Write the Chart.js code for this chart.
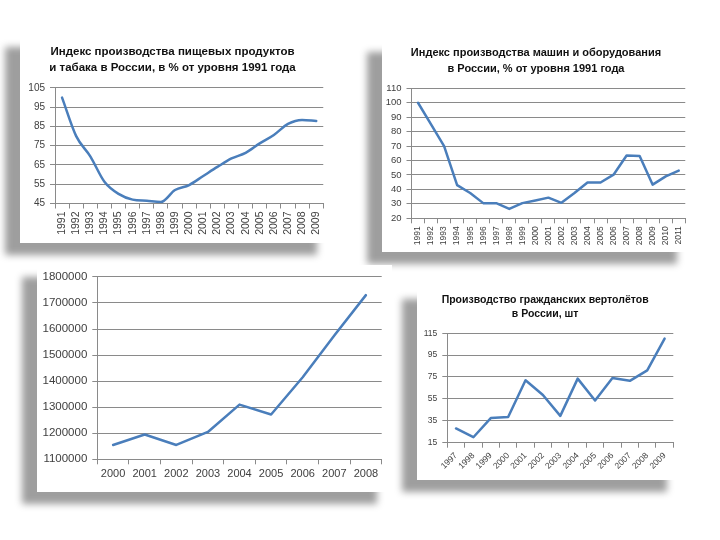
<!DOCTYPE html>
<html>
<head>
<meta charset="utf-8">
<script src="https://cdn.jsdelivr.net/npm/chart.js@4.4.0/dist/chart.umd.min.js"></script>
<style>
  body { margin: 0; background: #fff; width: 720px; height: 540px; position: relative; overflow: hidden; }
  .panel { position: absolute; background: #fff; box-shadow: -15px 12px 7px rgba(0, 0, 0, 0.38); }
  .panel canvas { display: block; }
</style>
</head>
<body>
<div class="panel" style="left:20px;top:35px;width:312px;height:208px"><canvas id="food" width="312" height="208"></canvas></div>
<div class="panel" style="left:382px;top:40px;width:310px;height:212px"><canvas id="machines" width="310" height="212"></canvas></div>
<div class="panel" style="left:37px;top:265px;width:355px;height:227px"><canvas id="output" width="355" height="227"></canvas></div>
<div class="panel" style="left:417px;top:287px;width:265px;height:193px"><canvas id="heli" width="265" height="193"></canvas></div>
<script>
const foodYears = ['1991', '1992', '1993', '1994', '1995', '1996', '1997', '1998', '1999', '2000',
  '2001', '2002', '2003', '2004', '2005', '2006', '2007', '2008', '2009'];
const foodIndex = [100, 80, 69.5, 56.3, 50, 47, 46.4, 45.8, 52, 54.6,
  59.3, 64, 68.4, 71.3, 76.2, 80.6, 86.3, 88.4, 87.9];

const machineYears = ['1991', '1992', '1993', '1994', '1995', '1996', '1997', '1998', '1999', '2000',
  '2001', '2002', '2003', '2004', '2005', '2006', '2007', '2008', '2009', '2010', '2011'];
const machineIndex = [100, 85, 70, 43, 37.5, 30.5, 30.5, 26.5, 30.5, 32.3,
  34.3, 30.7, 37.5, 44.8, 44.8, 50.2, 63.5, 63.2, 43.3, 49, 53];

const outputYears = ['2000', '2001', '2002', '2003', '2004', '2005', '2006', '2007', '2008'];
const outputValues = [1155000, 1195000, 1155000, 1205000, 1310000, 1272000, 1415000, 1575000, 1730000];

const heliYears = ['1997', '1998', '1999', '2000', '2001', '2002', '2003', '2004', '2005', '2006', '2007', '2008', '2009'];
const heliCount = [28, 20, 37.5, 38.5, 72, 58.5, 39.5, 73.5, 53.5, 74, 71.5, 81, 110];

const foodTitle = ['Индекс производства пищевых продуктов', 'и табака в России, в % от уровня 1991 года'];
const machineTitle = ['Индекс производства машин и оборудования', 'в России, % от уровня 1991 года'];
const heliTitle = ['Производство гражданских вертолётов', 'в России, шт'];

const FONT = "'Liberation Sans', Arial, sans-serif";
const LINE = '#4a7ebb';
const GRID = '#8a8a8a';
const TEXT = '#404040';

// one Excel-like line chart; axis sizes are pinned so the plot lands where the picture has it
function makeChart(id, labels, values, o) {
  return new Chart(document.getElementById(id), {
    type: 'line',
    data: {
      labels,
      datasets: [{
        data: values,
        borderColor: LINE,
        borderWidth: 2.5,
        pointRadius: 0,
        tension: o.smooth ? 0.4 : 0,
        cubicInterpolationMode: o.smooth ? 'monotone' : 'default',
        borderCapStyle: 'round',
        borderJoinStyle: 'round'
      }]
    },
    options: {
      responsive: false,
      animation: false,
      layout: { padding: { top: o.padTop || 0, right: o.padRight, left: 0, bottom: 0 } },
      plugins: {
        legend: { display: false },
        tooltip: { enabled: false },
        title: o.title ? {
          display: true,
          text: o.title,
          color: '#111',
          font: { family: FONT, size: o.titleSize, weight: 'bold', lineHeight: o.titleLine },
          padding: o.titlePad
        } : { display: false }
      },
      scales: {
        x: {
          offset: true,
          afterFit: s => { s.height = o.xHeight; },
          grid: { drawOnChartArea: false, offset: true, tickLength: 5, color: GRID },
          border: { color: GRID },
          ticks: {
            color: TEXT,
            font: { family: FONT, size: o.xFont },
            minRotation: o.rot,
            maxRotation: o.rot,
            autoSkip: false,
            padding: 3
          }
        },
        y: {
          min: o.min,
          max: o.max,
          afterFit: s => { s.width = o.yWidth; },
          grid: { color: GRID, tickLength: 5 },
          border: { color: GRID },
          ticks: {
            stepSize: o.step,
            color: TEXT,
            font: { family: FONT, size: o.yFont },
            padding: 5,
            callback: v => String(v)
          }
        }
      }
    }
  });
}

makeChart('food', foodYears, foodIndex, {
  smooth: true, title: foodTitle, titleSize: 11.5, titleLine: 1.39, titlePad: { top: 9, bottom: 12 },
  yWidth: 35, xHeight: 39.5, padRight: 7, min: 45, max: 105, step: 10, xFont: 10.5, yFont: 10, rot: 90
});

makeChart('machines', machineYears, machineIndex, {
  title: machineTitle, titleSize: 11, titleLine: 1.45, titlePad: { top: 5, bottom: 11.4 },
  yWidth: 29.5, xHeight: 33.7, padRight: 2, min: 20, max: 110, step: 10, xFont: 8.5, yFont: 9.5, rot: 90
});

makeChart('output', outputYears, outputValues, {
  padTop: 9.3, yWidth: 60.3, xHeight: 32.7, padRight: 10.3,
  min: 1100000, max: 1800000, step: 100000, xFont: 11, yFont: 11.5, rot: 0
});

makeChart('heli', heliYears, heliCount, {
  title: heliTitle, titleSize: 10.5, titleLine: 1.36, titlePad: { top: 5.8, bottom: 11.8 },
  yWidth: 30.3, xHeight: 37.3, padRight: 8.7, min: 15, max: 115, step: 20, xFont: 8.5, yFont: 8.5, rot: 45
});
</script>
</body>
</html>
